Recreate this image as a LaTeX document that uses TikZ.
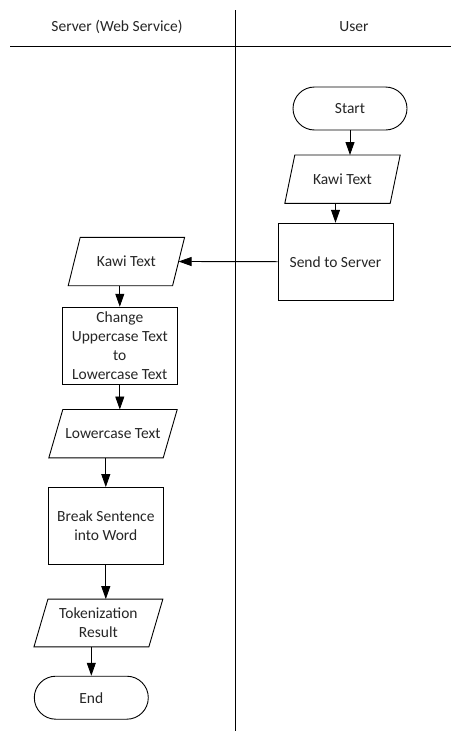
\documentclass[tikz,border=0pt]{standalone}
\usepackage{fontspec}
\setmainfont{Carlito}
\usetikzlibrary{arrows.meta,shapes.misc}

\tikzset{
  line/.style={line width=0.9pt, draw=black},
  lbl/.style={font=\fontsize{15.5}{19.2}\selectfont, text=black!85, align=center, inner sep=1pt},
  terminal/.style={lbl, rounded rectangle, line, minimum width=116pt, minimum height=43pt},
  process/.style={lbl, rectangle, line, minimum width=115pt, minimum height=77pt},
  io/.style={lbl, rectangle, draw=none, minimum height=48pt},
  arr/.style={line, -{Triangle[length=13pt,width=9pt]}},
}
% outline of a data (parallelogram) node: name, horizontal slant
\newcommand\ioframe[2]{%
  \draw[line] ([xshift=#2/2]#1.north west) -- ([xshift=#2/2]#1.north east)
    -- ([xshift=-#2/2]#1.south east) -- ([xshift=-#2/2]#1.south west) -- cycle;}

\begin{document}
\begin{tikzpicture}[x=1pt,y=-1pt]
\useasboundingbox (0,0) rectangle (451,731);
\fill[white] (0,0) rectangle (451,731);

% swimlanes
\coordinate (laneTop) at (235.5,10);
\coordinate (laneBot) at (235.5,731);
\coordinate (headL) at (10,46.7);
\coordinate (headR) at (451,46.7);
\draw[line] (laneTop) -- (laneBot);
\draw[line] (headL) -- (headR);
\node[lbl] (hServer) at (117,27) {Server (Web Service)};
\node[lbl] (hUser) at (354,27) {User};

% user lane
\node[terminal] (start) at (350,108.5) {Start};
\node[io, minimum width=105pt] (kawiU) at (342.5,179.2) {Kawi Text};
\ioframe{kawiU}{10pt}
\node[process] (send) at (335.5,261.7) {Send to Server};

% server lane
\node[io, minimum width=104pt] (kawiS) at (126.4,261.5) {Kawi Text};
\ioframe{kawiS}{12pt}
\node[process] (change) at (119.8,345.7) {Change\\Uppercase Text\\to\\Lowercase Text};
\node[io, minimum width=114pt] (lower) at (113,433.7) {Lowercase Text};
\ioframe{lower}{14pt}
\node[process] (brk) at (105.8,526) {Break Sentence\\into Word};
\node[io, minimum width=114.5pt, minimum height=47.4pt] (token) at (98.4,623) {Tokenization\\Result};
\ioframe{token}{14pt}
\node[terminal] (endn) at (91.3,697.7) {End};

% flow
\draw[arr] (start.south) -- (start.south |- kawiU.north);
\draw[arr] (send.north |- kawiU.south) -- (send.north);
\draw[arr] (send.west) -- (kawiS.east);
\draw[arr] (change.north |- kawiS.south) -- (change.north);
\draw[arr] (change.south) -- (change.south |- lower.north);
\draw[arr] (brk.north |- lower.south) -- (brk.north);
\draw[arr] (brk.south) -- (brk.south |- token.north);
\draw[arr] (endn.north |- token.south) -- (endn.north);
\end{tikzpicture}
\end{document}
